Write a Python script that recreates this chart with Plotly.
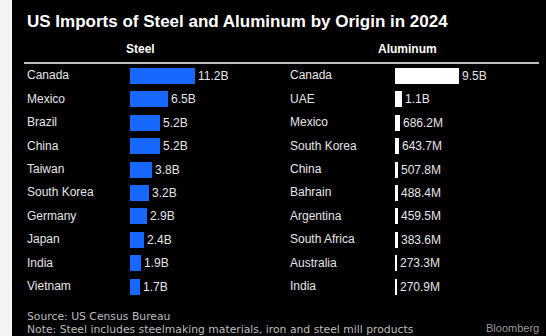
import plotly.graph_objects as go

W, H = 546, 336

steel_countries = ["Canada", "Mexico", "Brazil", "China", "Taiwan", "South Korea",
                   "Germany", "Japan", "India", "Vietnam"]
steel_values = [11.2, 6.5, 5.2, 5.2, 3.8, 3.2, 2.9, 2.4, 1.9, 1.7]  # billions USD
steel_labels = ["11.2B", "6.5B", "5.2B", "5.2B", "3.8B", "3.2B", "2.9B", "2.4B", "1.9B", "1.7B"]

alu_countries = ["Canada", "UAE", "Mexico", "South Korea", "China", "Bahrain",
                 "Argentina", "South Africa", "Australia", "India"]
alu_values = [9.5, 1.1, 0.6862, 0.6437, 0.5078, 0.4884, 0.4595, 0.3836, 0.2733, 0.2709]  # billions USD
alu_labels = ["9.5B", "1.1B", "686.2M", "643.7M", "507.8M", "488.4M", "459.5M", "383.6M", "273.3M", "270.9M"]

BG = "#000000"
TXT = "#e6e6e6"
BLUE = "#1668ff"
FONT = "Liberation Sans, Arial, sans-serif"


def px(x):
    return x / W


def py(y):
    return 1 - y / H


n = len(steel_countries)
ydom = [py(298), py(63.5)]

fig = go.Figure()
fig.add_trace(go.Bar(
    x=steel_values, y=list(range(n)), orientation="h",
    marker=dict(color=BLUE, line=dict(width=0)), width=0.68,
    text=steel_labels, textposition="outside", cliponaxis=False,
    textfont=dict(color=TXT, size=12, family=FONT),
    xaxis="x", yaxis="y", hoverinfo="skip",
))
fig.add_trace(go.Bar(
    x=alu_values, y=list(range(n)), orientation="h",
    marker=dict(color="#ffffff", line=dict(width=0)), width=0.68,
    text=alu_labels, textposition="outside", cliponaxis=False,
    textfont=dict(color=TXT, size=12, family=FONT),
    xaxis="x2", yaxis="y2", hoverinfo="skip",
))

axis_off = dict(visible=False, showgrid=False, zeroline=False, fixedrange=True)
fig.update_layout(
    width=W, height=H,
    margin=dict(l=0, r=0, t=0, b=0),
    paper_bgcolor=BG, plot_bgcolor=BG,
    showlegend=False, bargap=0,
    uniformtext=dict(minsize=8),
    xaxis=dict(domain=[px(130), px(260)], range=[0, 130 / 5.8], **axis_off),
    yaxis=dict(domain=ydom, range=[n - 0.5, -0.5], **axis_off),
    xaxis2=dict(domain=[px(395), px(525)], range=[0, 130 / 6.74], anchor="y2", **axis_off),
    yaxis2=dict(domain=ydom, range=[n - 0.5, -0.5], anchor="x2", **axis_off),
)

annotations = []
for i, c in enumerate(steel_countries):
    annotations.append(dict(x=px(25), xref="paper", y=i, yref="y", text=c,
                            xanchor="left", yanchor="middle", showarrow=False,
                            font=dict(color=TXT, size=12, family=FONT)))
for i, c in enumerate(alu_countries):
    annotations.append(dict(x=px(288), xref="paper", y=i, yref="y2", text=c,
                            xanchor="left", yanchor="middle", showarrow=False,
                            font=dict(color=TXT, size=12, family=FONT)))

annotations += [
    dict(x=px(25), y=py(22), xref="paper", yref="paper", xanchor="left", yanchor="middle",
         text="<b>US Imports of Steel and Aluminum by Origin in 2024</b>", showarrow=False,
         font=dict(color="#ffffff", size=17, family=FONT)),
    dict(x=px(140), y=py(49), xref="paper", yref="paper", xanchor="center", yanchor="middle",
         text="<b>Steel</b>", showarrow=False, font=dict(color="#ffffff", size=12, family=FONT)),
    dict(x=px(407), y=py(49), xref="paper", yref="paper", xanchor="center", yanchor="middle",
         text="<b>Aluminum</b>", showarrow=False, font=dict(color="#ffffff", size=12, family=FONT)),
    dict(x=px(25), y=py(316), xref="paper", yref="paper", xanchor="left", yanchor="middle",
         text="Source: US Census Bureau", showarrow=False,
         font=dict(color="#bdbdbd", size=10.8, family="DejaVu Sans, sans-serif")),
    dict(x=px(25), y=py(329), xref="paper", yref="paper", xanchor="left", yanchor="middle",
         text="Note: Steel includes steelmaking materials, iron and steel mill products", showarrow=False,
         font=dict(color="#bdbdbd", size=10.8, family="DejaVu Sans, sans-serif")),
    dict(x=px(541), y=py(328), xref="paper", yref="paper", xanchor="right", yanchor="middle",
         text="Bloomberg", showarrow=False,
         font=dict(color="#9a9a9a", size=11, family=FONT)),
]
fig.update_layout(annotations=annotations)

fig.update_layout(shapes=[
    # light margin strip at the left edge
    dict(type="rect", xref="paper", yref="paper", x0=0, x1=px(12), y0=0, y1=1,
         fillcolor="#f4f4f4", line=dict(width=0), layer="below"),
    # rule under the column headers
    dict(type="line", xref="paper", yref="paper", x0=px(24), x1=px(539), y0=py(63), y1=py(63),
         line=dict(color="#ffffff", width=1.5)),
])

fig.write_html("out.html")
